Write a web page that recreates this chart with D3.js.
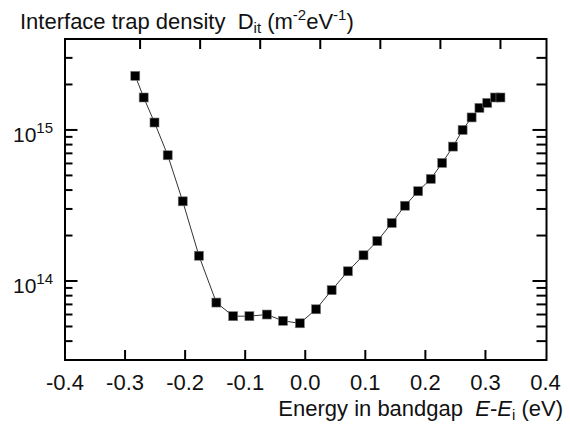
<!DOCTYPE html>
<html>
<head>
<meta charset="utf-8">
<script src="https://cdn.jsdelivr.net/npm/d3@7"></script>
<style>
  body { margin: 0; background: #fff; }
  text { font-family: Arial, "Liberation Sans", sans-serif; fill: #111; white-space: pre; }
</style>
</head>
<body>
<div id="chart"></div>
<script>
// energy relative to intrinsic level (eV)
const energy = [-0.283, -0.269, -0.251, -0.229, -0.204, -0.177, -0.148, -0.120, -0.093,
    -0.064, -0.037, -0.009, 0.018, 0.044, 0.071, 0.097, 0.120, 0.144, 0.166, 0.188,
    0.209, 0.228, 0.246, 0.262, 0.277, 0.290, 0.303, 0.316, 0.325];
// interface trap density (m^-2 eV^-1)
const dit = [2.28e15, 1.64e15, 1.12e15, 6.8e14, 3.37e14, 1.47e14, 7.2e13, 5.85e13, 5.85e13,
    6.0e13, 5.45e13, 5.25e13, 6.5e13, 8.7e13, 1.16e14, 1.48e14, 1.84e14, 2.42e14, 3.15e14, 3.93e14,
    4.74e14, 6.05e14, 7.76e14, 1.0e15, 1.21e15, 1.40e15, 1.51e15, 1.64e15, 1.64e15];

const xTicks = [-0.4, -0.3, -0.2, -0.1, 0.0, 0.1, 0.2, 0.3, 0.4];
const xTopTicks = [-0.275, -0.175, -0.075, 0.025, 0.125, 0.225, 0.325];
const yMajor = [1e14, 1e15];
const yMinor = [4e13, 5e13, 6e13, 7e13, 8e13, 9e13, 2e14, 3e14, 4e14, 5e14, 6e14, 7e14, 8e14, 9e14, 2e15, 3e15];
const yExp = { 1e14: "14", 1e15: "15" };

const W = 570, H = 428;
const m = { left: 65, right: 545.5, top: 39, bottom: 360 };

const svg = d3.select("#chart").append("svg")
    .attr("width", W).attr("height", H);

const x = d3.scaleLinear().domain([-0.4, 0.4]).range([m.left, m.right]);
const y = d3.scaleLog().domain([3e13, 4e15]).range([m.bottom, m.top]);

const data = energy.map((e, i) => ({ e, d: dit[i] }));

// frame
svg.append("rect")
    .attr("x", m.left).attr("y", m.top)
    .attr("width", m.right - m.left + 1).attr("height", m.bottom - m.top)
    .attr("fill", "none").attr("stroke", "#000").attr("stroke-width", 2);

const tickG = svg.append("g").attr("stroke", "#000").attr("stroke-width", 2);

// bottom ticks
tickG.selectAll(".xb").data(xTicks.slice(1, -1)).enter().append("line")
    .attr("x1", d => x(d)).attr("x2", d => x(d))
    .attr("y1", m.bottom).attr("y2", m.bottom - 10);
// top ticks
tickG.selectAll(".xt").data(xTopTicks).enter().append("line")
    .attr("x1", d => x(d)).attr("x2", d => x(d))
    .attr("y1", m.top).attr("y2", m.top + 10);
// left ticks
tickG.selectAll(".yl").data(yMajor.concat(yMinor)).enter().append("line")
    .attr("x1", m.left).attr("x2", d => m.left + (yMajor.includes(d) ? 12.5 : 7.5))
    .attr("y1", d => y(d)).attr("y2", d => y(d));
// right ticks
tickG.selectAll(".yr").data(yMajor.concat(yMinor)).enter().append("line")
    .attr("x1", m.right + 1).attr("x2", d => m.right + 1 - (yMajor.includes(d) ? 14 : 10))
    .attr("y1", d => y(d)).attr("y2", d => y(d));

// x tick labels
svg.selectAll(".xl").data(xTicks).enter().append("text")
    .attr("x", d => x(d)).attr("y", 390)
    .attr("text-anchor", "middle").attr("font-size", 22)
    .text(d => d3.format(".1f")(d).replace("−", "-"));

// y tick labels
const yl = svg.selectAll(".ylab").data(yMajor).enter().append("text")
    .attr("x", 53).attr("y", d => y(d) + 12)
    .attr("text-anchor", "end").attr("font-size", 21);
yl.append("tspan").text("10");
yl.append("tspan").attr("dy", -9).attr("font-size", 15).text(d => yExp[d]);

// line + markers
const line = d3.line().x(d => x(d.e)).y(d => y(d.d));
svg.append("path").datum(data)
    .attr("d", line).attr("fill", "none")
    .attr("stroke", "#333").attr("stroke-width", 1);

svg.selectAll(".pt").data(data).enter().append("rect")
    .attr("x", d => x(d.e) - 4.5).attr("y", d => y(d.d) - 4.5)
    .attr("width", 9).attr("height", 9)
    .attr("fill", "#000").attr("stroke", "#777").attr("stroke-width", 0.6);

// y title
const yt = svg.append("text").attr("x", 20).attr("y", 29).attr("font-size", 22);
yt.append("tspan").text("Interface trap density  D");
yt.append("tspan").attr("font-size", 15).attr("dy", 4).text("it");
yt.append("tspan").attr("dy", -4).text(" (m");
yt.append("tspan").attr("font-size", 15).attr("dy", -9).text("-2");
yt.append("tspan").attr("dy", 9).text("eV");
yt.append("tspan").attr("font-size", 15).attr("dy", -9).text("-1");
yt.append("tspan").attr("dy", 9).text(")");

// x title
const xt = svg.append("text").attr("x", 563).attr("y", 416)
    .attr("text-anchor", "end").attr("font-size", 22);
xt.append("tspan").text("Energy in bandgap  ");
xt.append("tspan").attr("font-style", "italic").text("E");
xt.append("tspan").text("-");
xt.append("tspan").attr("font-style", "italic").text("E");
xt.append("tspan").attr("font-size", 15).attr("dy", 4).text("i");
xt.append("tspan").attr("dy", -4).text(" (eV)");
</script>
</body>
</html>
